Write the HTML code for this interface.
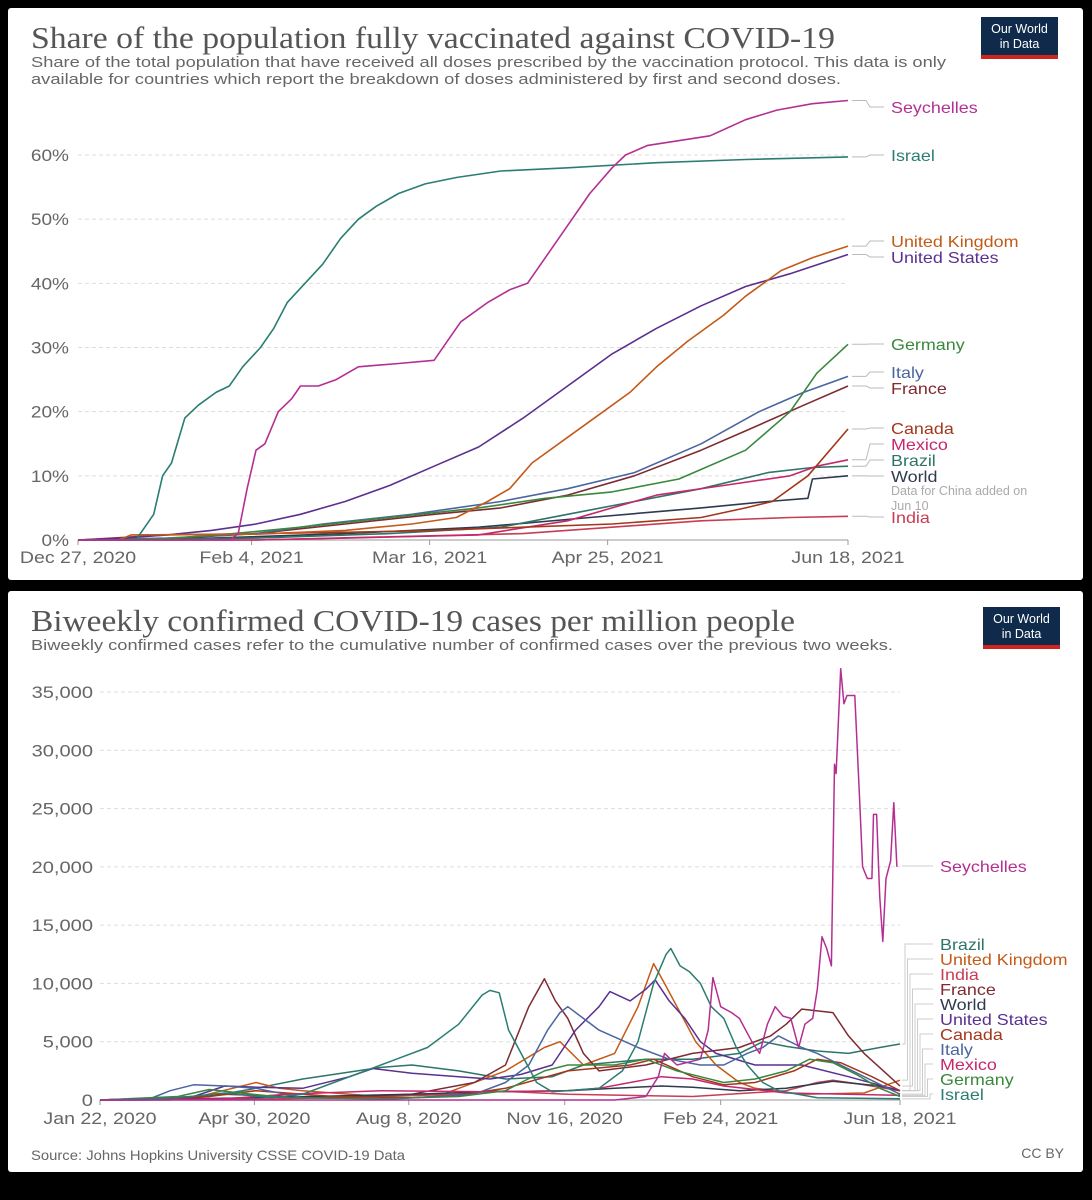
<!DOCTYPE html>
<html><head><meta charset="utf-8"><style>
html,body{margin:0;padding:0;background:#000;}
svg{display:block;}
text{font-family:"Liberation Sans",sans-serif;}
.title{font-family:"Liberation Serif",serif;font-size:31px;fill:#555;}
.sub{font-size:15px;fill:#666;}
.tick{font-size:17px;fill:#666;}
.lab{font-size:16px;}
</style></head><body>
<svg id="s" width="1092" height="1200" viewBox="0 0 1092 1200" xmlns="http://www.w3.org/2000/svg">
<rect x="0" y="0" width="1092" height="1200" fill="#000"/>
<rect x="8" y="8" width="1075" height="572" fill="#fff" rx="3"/>
<rect x="8" y="591" width="1075" height="581" fill="#fff" rx="3"/>
<text class="title" x="31" y="48" textLength="804" lengthAdjust="spacingAndGlyphs">Share of the population fully vaccinated against COVID-19</text>
<text class="sub" x="31" y="67" textLength="915" lengthAdjust="spacingAndGlyphs">Share of the total population that have received all doses prescribed by the vaccination protocol. This data is only</text>
<text class="sub" x="31" y="84" textLength="810" lengthAdjust="spacingAndGlyphs">available for countries which report the breakdown of doses administered by first and second doses.</text>
<g><rect x="981" y="17" width="77" height="41" fill="#0f2a4a"/><rect x="981" y="55" width="77" height="4" fill="#ce261e"/><text x="1019.5" y="33" fill="#fff" font-size="12.5" text-anchor="middle">Our World</text><text x="1019.5" y="48" fill="#fff" font-size="12.5" text-anchor="middle">in Data</text></g>
<text class="title" x="31" y="631" textLength="764" lengthAdjust="spacingAndGlyphs">Biweekly confirmed COVID-19 cases per million people</text>
<text class="sub" x="31" y="650" textLength="862" lengthAdjust="spacingAndGlyphs">Biweekly confirmed cases refer to the cumulative number of confirmed cases over the previous two weeks.</text>
<g><rect x="983" y="607" width="77" height="41" fill="#0f2a4a"/><rect x="983" y="645" width="77" height="4" fill="#ce261e"/><text x="1021.5" y="623" fill="#fff" font-size="12.5" text-anchor="middle">Our World</text><text x="1021.5" y="638" fill="#fff" font-size="12.5" text-anchor="middle">in Data</text></g>
<text class="sub" x="31" y="1160" style="font-size:14px" textLength="374" lengthAdjust="spacingAndGlyphs">Source: Johns Hopkins University CSSE COVID-19 Data</text>
<text class="sub" x="1064" y="1158" text-anchor="end" style="font-size:14px">CC BY</text>
<g id="g1"></g><g id="g2"></g>
</svg>
<script>
// ---------- Top chart data (day since Dec 27 2020, % fully vaccinated) ----------
const vaxTickDays = [0, 39, 79, 119, 173];
const vaxTickLabels = ["Dec 27, 2020", "Feb 4, 2021", "Mar 16, 2021", "Apr 25, 2021", "Jun 18, 2021"];
const vaxYTicks = [0, 10, 20, 30, 40, 50, 60];
const vaxSeychelles = [[0,0],[34,0],[36,1],[38,8],[40,14],[42,15],[45,20],[48,22],[50,24],[54,24],[58,25],[63,27],[72,27.5],[80,28],[83,31],[86,34],[92,37],[97,39],[101,40],[105,44],[110,49],[115,54],[120,58],[123,60],[128,61.5],[142,63],[150,65.5],[157,67],[165,68],[173,68.5]];
const vaxIsrael = [[0,0],[13,0],[15,2],[17,4],[19,10],[21,12],[24,19],[27,21],[31,23],[34,24],[37,27],[41,30],[44,33],[47,37],[51,40],[55,43],[59,47],[63,50],[67,52],[72,54],[78,55.5],[85,56.5],[95,57.5],[110,58],[130,58.8],[150,59.3],[173,59.7]];
const vaxUK = [[0,0],[9,0],[12,0.8],[40,0.9],[60,1.5],[75,2.5],[85,3.5],[92,6],[97,8],[102,12],[110,16],[118,20],[124,23],[130,27],[137,31],[145,35],[150,38],[158,42],[165,44],[173,45.8]];
const vaxUS = [[0,0],[10,0.3],[20,0.8],[30,1.5],[40,2.5],[50,4],[60,6],[70,8.5],[80,11.5],[90,14.5],[100,19],[110,24],[120,29],[130,33],[140,36.5],[150,39.5],[160,41.5],[173,44.5]];
const vaxGermany = [[0,0],[20,0.2],[35,1],[50,2],[70,3.5],[90,5],[105,6.5],[120,7.5],[135,9.5],[150,14],[160,20],[166,26],[173,30.5]];
const vaxItaly = [[0,0],[20,0.3],[40,1],[55,2.5],[75,4],[95,6],[110,8],[125,10.5],[140,15],[153,20],[163,23],[173,25.5]];
const vaxFrance = [[0,0],[20,0.2],[40,1],[60,2.5],[80,4],[95,5],[110,7],[125,10],[140,14],[150,17],[163,21],[173,24]];
const vaxCanada = [[0,0],[20,0.8],[60,1.2],[80,1.5],[100,2],[120,2.5],[140,3.5],[150,5],[156,6],[164,10],[173,17.3]];
const vaxMexico = [[0,0],[40,0],[60,0.3],[90,0.8],[110,3],[120,5],[130,7],[145,8.5],[160,10],[166,11.5],[173,12.5]];
const vaxBrazil = [[0,0],[40,0.3],[70,1],[95,2],[110,4],[125,6],[140,8],[155,10.5],[165,11.3],[173,11.5]];
const vaxWorld = [[0,0],[30,0.3],[60,1],[90,2],[115,3.5],[140,5],[155,6],[164,6.5],[165,9.5],[173,10]];
const vaxIndia = [[0,0],[40,0],[70,0.5],[100,1],[120,2],[140,3],[160,3.5],[173,3.7]];

// ---------- Bottom chart data (day since Jan 22 2020, cases per million) ----------
const caseTickDays = [0, 99, 198, 298, 398, 513];
const caseTickLabels = ["Jan 22, 2020", "Apr 30, 2020", "Aug 8, 2020", "Nov 16, 2020", "Feb 24, 2021", "Jun 18, 2021"];
const caseYTicks = [0, 5000, 10000, 15000, 20000, 25000, 30000, 35000];
const caseSeychelles = [[0,0],[330,0],[350,300],[358,2000],[362,4000],[370,3000],[385,3500],[390,6000],[393,10500],[398,8000],[405,7500],[410,7000],[418,5000],[423,4000],[428,6500],[433,8000],[438,7200],[443,7000],[448,4500],[452,6500],[457,7000],[460,9500],[463,14000],[466,13000],[469,11500],[471,28800],[472,28000],[475,37000],[477,34000],[479,34700],[484,34700],[487,26000],[489,20000],[492,19000],[495,19000],[496,24500],[498,24500],[500,17500],[502,13600],[504,19000],[507,20500],[509,25500],[511,20000]];
const caseBrazil = [[0,0],[45,0],[70,300],[100,1000],[130,1800],[150,2200],[180,2800],[200,3000],[230,2500],[260,1800],[290,2000],[310,3000],[350,3500],[380,3500],[410,4000],[425,5000],[440,4600],[460,4200],[480,4000],[500,4500],[513,4800]];
const caseUK = [[0,0],[60,200],[85,1000],[100,1500],[115,1000],[130,800],[180,300],[220,500],[260,2500],[285,4500],[295,5000],[310,3000],[330,4000],[345,8000],[355,11700],[362,10000],[370,8000],[382,5000],[395,3000],[410,1500],[420,1000],[450,500],[490,600],[513,1700]];
const caseIndia = [[0,0],[100,50],[180,300],[230,500],[250,800],[300,500],[380,300],[440,800],[460,1500],[470,1700],[490,1300],[513,800]];
const caseFrance = [[0,0],[60,200],[80,500],[140,200],[200,500],[240,1500],[260,3000],[275,8000],[285,10400],[292,8500],[300,7000],[310,4000],[320,2500],[350,3000],[380,4000],[410,4500],[430,5500],[440,6500],[450,7800],[470,7500],[480,5500],[490,4000],[513,1200]];
const caseWorld = [[0,0],[60,100],[100,200],[200,500],[250,700],[300,800],[330,1000],[360,1200],[380,1100],[410,800],[440,1000],[470,1600],[500,1200],[513,800]];
const caseUS = [[0,0],[60,300],[80,1200],[100,1100],[130,1000],[160,2000],[175,2700],[200,2300],[230,2000],[250,1800],[270,2200],[290,3000],[305,6000],[320,8000],[327,9300],[340,8500],[350,9500],[356,10300],[365,8500],[375,7000],[385,5000],[395,4000],[420,3000],[450,3000],[480,2000],[513,800]];
const caseCanada = [[0,0],[70,300],[100,800],[150,300],[200,200],[230,400],[260,1000],[300,2500],[340,3000],[355,3500],[380,2000],[400,1300],[420,1500],[445,2500],[460,3500],[475,3200],[495,2000],[513,800]];
const caseItaly = [[0,0],[30,0],[45,800],[60,1300],[80,1200],[100,1000],[130,200],[190,100],[240,500],[260,1500],[275,3000],[287,6000],[295,7500],[300,8000],[310,7000],[320,6000],[345,4500],[365,3500],[385,3000],[400,3000],[415,4000],[425,4500],[435,5500],[450,4500],[460,4000],[490,2000],[513,500]];
const caseMexico = [[0,0],[80,100],[120,500],[180,800],[250,700],[300,800],[320,1000],[340,1500],[360,2000],[380,1800],[400,1200],[440,600],[513,400]];
const caseGermany = [[0,0],[50,300],[70,900],[90,600],[120,200],[180,100],[230,300],[260,800],[270,1500],[285,2500],[300,3000],[330,3000],[350,3500],[370,2500],[385,2000],[400,1500],[420,1800],[440,2500],[455,3500],[470,3200],[485,2200],[500,1000],[513,300]];
const caseIsrael = [[0,0],[50,200],[80,600],[110,200],[130,500],[150,1500],[170,2500],[190,3500],[210,4500],[230,6500],[245,9000],[250,9400],[256,9200],[262,6000],[270,4000],[280,1500],[290,700],[320,1000],[335,2500],[345,5000],[355,10000],[363,12500],[366,13000],[372,11500],[378,11000],[385,10000],[392,8000],[400,7000],[408,4500],[415,3000],[425,1500],[435,800],[460,200],[513,100]];

const NS = "http://www.w3.org/2000/svg";
function mk(tag, attrs, parent) {
  const e = document.createElementNS(NS, tag);
  for (const k in attrs) e.setAttribute(k, attrs[k]);
  parent.appendChild(e);
  return e;
}
function stretch(t, f) {
  const w = t.getComputedTextLength();
  t.setAttribute("textLength", (w * f).toFixed(1));
  t.setAttribute("lengthAdjust", "spacingAndGlyphs");
}

// ---------- Top chart ----------
const g1 = document.getElementById("g1");
const x1 = d => 78 + d * (848 - 78) / 173;
const y1 = v => 540 - v * (540 - 155) / 60;
vaxYTicks.forEach(v => {
  if (v > 0) {
    const l = mk("line", {x1: 78, x2: 848, y1: y1(v), y2: y1(v), stroke: "#ddd", "stroke-dasharray": "4,3"}, g1);
    
    
  }
  const t = mk("text", {x: 69, y: y1(v) + 6, class: "tick", "text-anchor": "end"}, g1);
  t.textContent = v + "%";
  
  
  stretch(t, 1.12);
});
const ax1 = mk("line", {x1: 78, x2: 848, y1: 540, y2: 540, stroke: "#999"}, g1);


vaxTickDays.forEach((d, i) => {
  const tk = mk("line", {x1: x1(d), x2: x1(d), y1: 540, y2: 545, stroke: "#999"}, g1);
  
  
  const t = mk("text", {x: x1(d), y: 563, class: "tick", "text-anchor": "middle"}, g1);
  t.textContent = vaxTickLabels[i];
  
  
  stretch(t, 1.15);
});
const vaxSeries = [
  ["India", vaxIndia, "#c63d54", 523], ["World", vaxWorld, "#2f3a4d", 482], ["Brazil", vaxBrazil, "#2e7468", 466],
  ["Mexico", vaxMexico, "#c5286d", 450], ["Canada", vaxCanada, "#a3371c", 434], ["France", vaxFrance, "#7d2b31", 394],
  ["Italy", vaxItaly, "#4a65a0", 378], ["Germany", vaxGermany, "#39883e", 350], ["United States", vaxUS, "#5a3090", 263],
  ["United Kingdom", vaxUK, "#c35a18", 247], ["Israel", vaxIsrael, "#2a7d73", 161], ["Seychelles", vaxSeychelles, "#b42f92", 113]
];
vaxSeries.forEach(s => {
  const [name, data, col, ly] = s;
  const p = mk("polyline", {points: data.map(p => x1(p[0]).toFixed(1) + "," + y1(p[1]).toFixed(1)).join(" "), fill: "none", stroke: col, "stroke-width": 1.6, "stroke-linejoin": "round"}, g1);
  
  
  const ey = y1(data[data.length - 1][1]);
  const c = mk("polyline", {points: `852,${ey} 866,${ey} 870,${ly - 6} 884,${ly - 6}`, fill: "none", stroke: "#bbb"}, g1);
  
  
  const t = mk("text", {x: 891, y: ly, class: "lab", fill: col}, g1);
  t.textContent = name;
  
  
  stretch(t, 1.12);
});
const n1 = mk("text", {x: 891, y: 495, fill: "#aaa", "font-size": "12.5"}, g1);
n1.textContent = "Data for China added on";


const n2 = mk("text", {x: 891, y: 510, fill: "#aaa", "font-size": "12.5"}, g1);
n2.textContent = "Jun 10";



// ---------- Bottom chart ----------
const g2 = document.getElementById("g2");
const x2 = d => 100 + d * (900 - 100) / 513;
const y2 = v => 1100 - v * (1100 - 692) / 35000;
caseYTicks.forEach(v => {
  if (v > 0) {
    const l = mk("line", {x1: 100, x2: 900, y1: y2(v), y2: y2(v), stroke: "#ddd", "stroke-dasharray": "4,3"}, g2);
    
    
  }
  const t = mk("text", {x: 93, y: y2(v) + 6, class: "tick", "text-anchor": "end"}, g2);
  t.textContent = v.toLocaleString("en-US");
  
  
  stretch(t, 1.18);
});
const ax2 = mk("line", {x1: 100, x2: 900, y1: 1100, y2: 1100, stroke: "#999"}, g2);


caseTickDays.forEach((d, i) => {
  const tk = mk("line", {x1: x2(d), x2: x2(d), y1: 1100, y2: 1105, stroke: "#999"}, g2);
  
  
  const t = mk("text", {x: x2(d), y: 1124, class: "tick", "text-anchor": "middle"}, g2);
  t.textContent = caseTickLabels[i];
  
  
  stretch(t, 1.15);
});
const caseSeries = [
  ["Brazil", caseBrazil, "#2e7468", 950], ["United Kingdom", caseUK, "#c35a18", 965], ["India", caseIndia, "#c63d54", 980],
  ["France", caseFrance, "#7d2b31", 995], ["World", caseWorld, "#2f3a4d", 1010], ["United States", caseUS, "#5a3090", 1025],
  ["Canada", caseCanada, "#a3371c", 1040], ["Italy", caseItaly, "#4a65a0", 1055], ["Mexico", caseMexico, "#c5286d", 1070],
  ["Germany", caseGermany, "#39883e", 1085], ["Israel", caseIsrael, "#2a7d73", 1100], ["Seychelles", caseSeychelles, "#b42f92", 872]
];
caseSeries.forEach((s, i) => {
  const [name, data, col, ly] = s;
  const p = mk("polyline", {points: data.map(p => x2(p[0]).toFixed(1) + "," + y2(p[1]).toFixed(1)).join(" "), fill: "none", stroke: col, "stroke-width": 1.5, "stroke-linejoin": "round"}, g2);
  
  
  const ey = y2(data[data.length - 1][1]);
  const ex = 905 + i * 2.5;
  const c = mk("polyline", {points: name === "Seychelles" ? `902,${ly - 6} 933,${ly - 6}` : `902,${ey} ${ex},${ey} ${ex},${ly - 6} 933,${ly - 6}`, fill: "none", stroke: "#ccc"}, g2);
  
  
  const t = mk("text", {x: 940, y: ly, class: "lab", fill: col}, g2);
  t.textContent = name;
  
  
  stretch(t, 1.12);
});
</script>
</body></html>
